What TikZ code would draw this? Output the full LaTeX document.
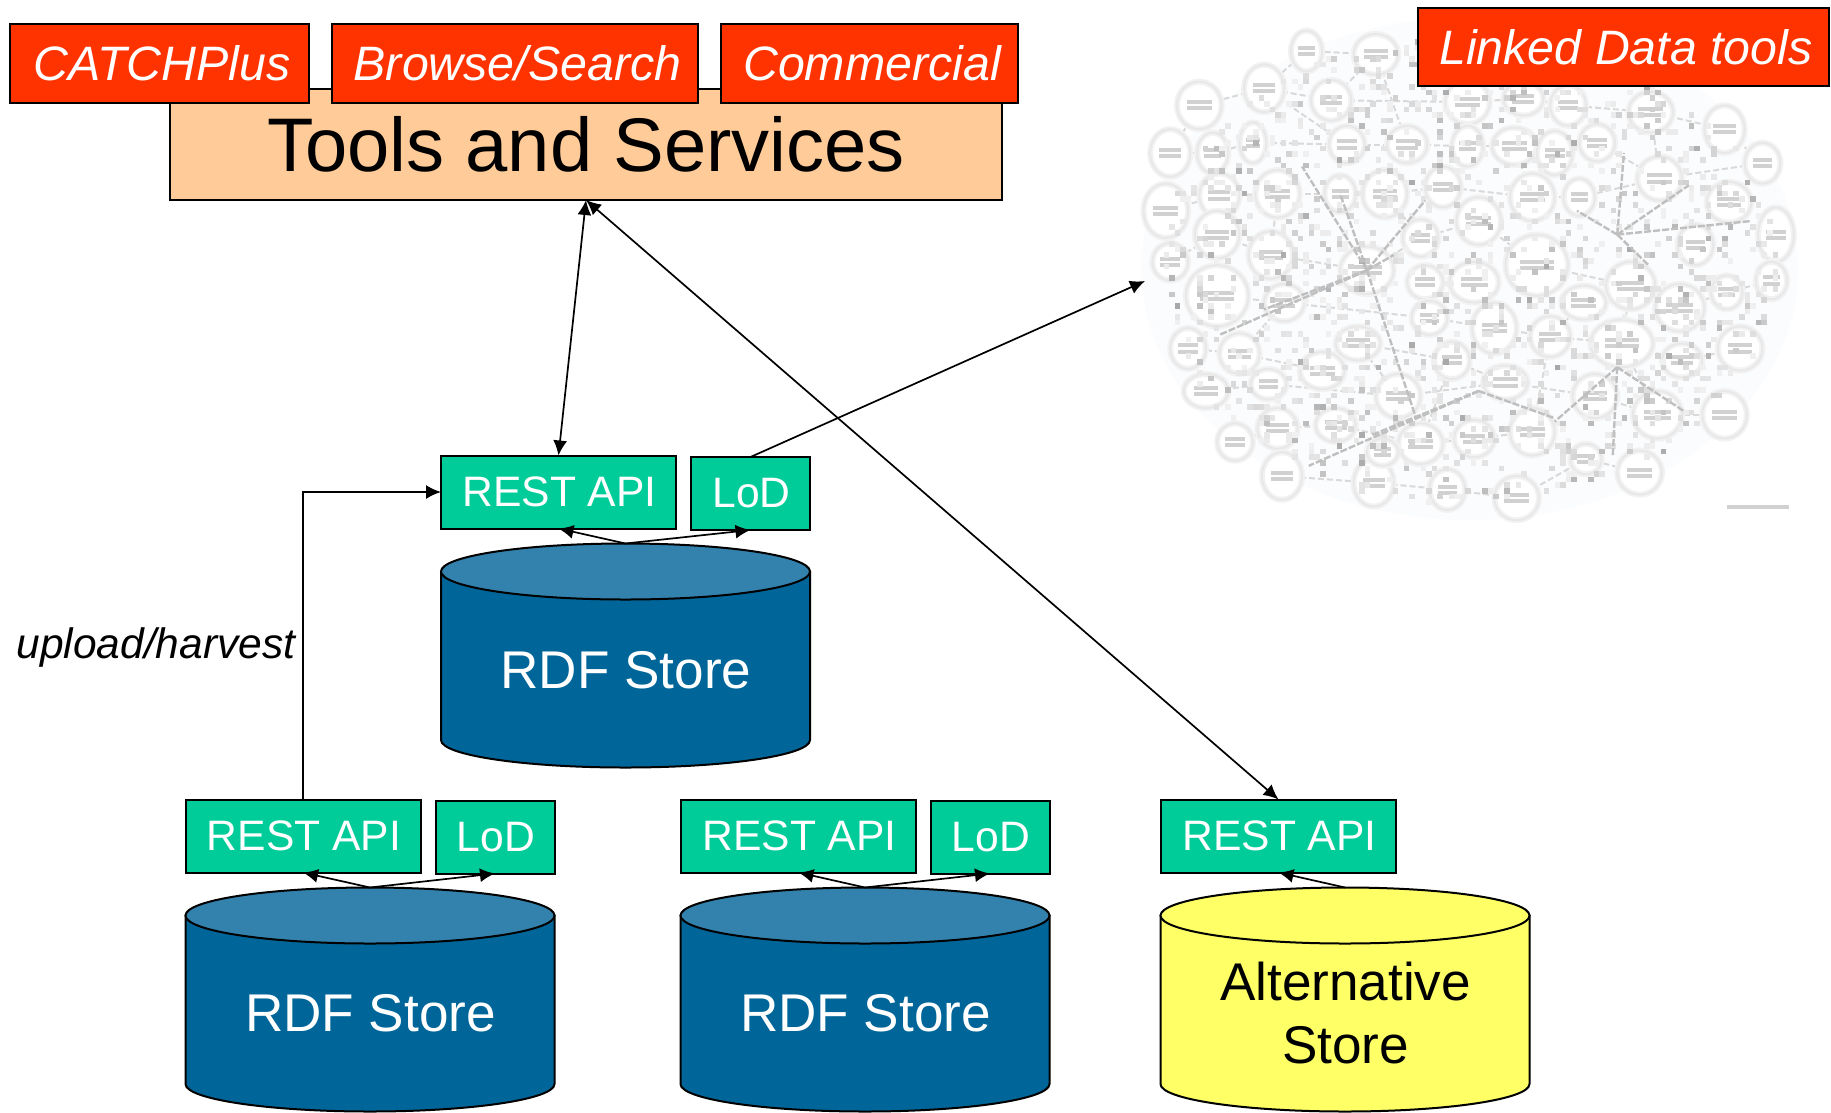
\documentclass[tikz,border=0pt]{standalone}
\usepackage{fontspec}
\setmainfont{Liberation Sans}
\usetikzlibrary{arrows.meta}
\definecolor{redbox}{HTML}{FF3300}
\definecolor{tealbox}{HTML}{00CC99}
\definecolor{storeblue}{HTML}{006699}
\definecolor{storetop}{HTML}{3382AD}
\definecolor{altyellow}{HTML}{FFFF66}
\definecolor{toolsorange}{HTML}{FFCC99}
\definecolor{cloudbg}{HTML}{FBFCFD}
\newcommand{\fsz}[1]{\fontsize{#1pt}{#1pt}\selectfont}
\newcommand{\tx}[1]{\hspace{2pt}\raisebox{-2pt}{#1}}
\newcommand{\txr}[1]{\hspace{5pt}\raisebox{-2pt}{#1}}
\newcommand{\storecyl}[6]{% name, cx, topY(ellipse centre), botY(side end), body, top
  \path[draw=black,line width=2pt,fill=#5] (#2-184.5,#3) -- (#2-184.5,#4)
     arc[start angle=180,end angle=0,x radius=184.5,y radius=27.5]
     -- (#2+184.5,#3) -- cycle;
  \path[draw=black,line width=2pt,fill=#6] (#2,#3) ellipse[x radius=184.5,y radius=28];
  \coordinate (#1) at (#2,#3-28);
}
\tikzset{
  arrowline/.style={line width=1.7pt,{Latex[length=15pt,width=14pt]}-{Latex[length=15pt,width=14pt]}},
  onearrow/.style={line width=1.7pt,-{Latex[length=15pt,width=14pt]}},
  redlabel/.style={draw=black,line width=1.5pt,fill=redbox,text=white,inner sep=0pt,outer sep=0pt,font=\fsz{48.3}\itshape},
  apibox/.style={draw=black,line width=2pt,fill=tealbox,text=white,inner sep=0pt,outer sep=0pt,minimum width=235pt,minimum height=73pt,font=\fsz{42.6}},
  lodbox/.style={draw=black,line width=2pt,fill=tealbox,text=white,inner sep=0pt,outer sep=0pt,minimum width=119pt,minimum height=73pt,font=\fsz{42.6}},
  storetext/.style={inner sep=0pt,text=white,font=\fsz{53.1}},
  cloudring/.style={draw=gray!10,line width=6pt},
  cloudringb/.style={draw=gray!18,line width=2pt},
  cloudtext/.style={draw=gray!36,line width=4pt},
  cloudhub/.style={draw=gray!50,line width=2.4pt,dash pattern=on 7pt off 2pt},
  cloudlink/.style={draw=gray!30,line width=2pt,dash pattern=on 6pt off 3pt},
}
\begin{document}
\begin{tikzpicture}[x=1pt,y=-1pt]
\useasboundingbox (0,0) rectangle (1831,1112);
% Linked data cloud image
\begin{scope}[shift={(1130,0)},xscale=0.447,yscale=0.34]
\fill[cloudbg] (760,790) ellipse[x radius=735,y radius=740];
\foreach \a/\b/\c/\d in {395/150/550/160,395/150/300/260,300/260/155/310,300/260/450/295,450/295/550/160,450/295/755/300,755/300/880/290,880/290/980/310,980/310/1165/330,1165/330/1330/380,1330/380/1415/480,155/310/90/450,90/450/185/450,185/450/275/420,275/420/485/425,485/425/620/425,620/425/755/430,755/430/860/430,860/430/950/450,950/450/1045/420,1045/420/1185/525,1185/525/1415/480,80/620/200/575,200/575/330/570,330/570/470/570,470/570/570/570,570/570/700/550,700/550/900/580,900/580/1005/580,1005/580/1185/525,195/690/315/750,90/770/195/690,315/750/530/795,530/795/650/700,650/700/780/650,780/650/910/780,910/780/1120/840,1120/840/1230/905,1230/905/1335/860,1335/860/1435/825,195/870/345/890,345/890/670/935,670/935/815/965,815/965/940/990,940/990/1100/1010,1100/1010/1235/1060,1235/1060/1365/1025,130/1025/245/1040,245/1040/430/1090,430/1090/510/1010,510/1010/720/1060,720/1060/840/1125,840/1125/1040/1165,1040/1165/1180/1220,1180/1220/1330/1220,170/1150/310/1130,310/1130/600/1165,600/1165/840/1125,235/1300/330/1260,330/1260/460/1250,460/1250/650/1305,650/1305/770/1290,770/1290/900/1270,900/1270/1020/1350,1020/1350/1140/1390,340/1400/545/1420,545/1420/710/1440,710/1440/865/1465,865/1465/1020/1350,300/260/485/425,550/160/620/425,755/300/755/430,860/430/900/580,1165/330/1185/525,200/575/195/690,330/570/315/750,570/570/650/700,770/830/815/965,660/830/670/935,1120/840/1100/1010,1015/890/940/990,345/890/245/1040,510/1010/600/1165,720/1060/650/1305,940/990/900/1270,1100/1010/1180/1220}
  \draw[cloudlink] (\a,\b) -- (\c,\d);
\foreach \x/\y/\rx/\ry in {395/150/35/60,550/160/50/60,300/260/45/70,155/310/50/70,450/295/45/60,755/300/50/65,880/290/45/50,980/310/40/60,1165/330/50/60,1330/380/45/70,1415/480/40/60,90/450/45/70,185/450/35/60,275/420/30/60,485/425/40/55,620/425/45/55,755/430/35/60,860/430/50/55,950/450/40/65,1045/420/40/55,1185/525/50/65,80/620/50/80,200/575/45/65,330/570/50/70,470/570/35/55,570/570/50/70,700/550/40/60,900/580/50/70,1005/580/35/55,780/650/50/70,1340/595/50/60,1445/690/40/80,195/690/50/70,315/750/50/70,90/770/40/55,530/795/60/70,650/700/40/55,910/780/70/90,1265/720/40/60,1120/840/55/70,770/830/55/60,660/830/40/50,1335/860/35/50,1435/825/35/55,195/870/70/90,345/890/45/55,670/935/40/50,1015/890/50/50,1230/905/55/70,815/965/50/75,940/990/45/60,1100/1010/70/70,1365/1025/50/65,130/1025/40/60,245/1040/45/60,430/1090/50/55,510/1010/50/50,720/1060/40/55,1235/1060/45/50,170/1150/50/50,310/1130/40/45,600/1165/50/65,840/1125/50/50,1040/1165/50/65,1180/1220/55/70,1330/1220/50/70,235/1300/40/55,330/1260/45/60,460/1250/45/50,650/1305/50/60,770/1290/45/55,900/1270/50/70,1020/1350/35/45,1140/1390/50/65,340/1400/45/70,545/1420/45/70,710/1440/40/60,865/1465/50/65,565/1330/35/40}{
  \path[cloudring,fill=white] (\x,\y) ellipse[x radius=\rx,y radius=\ry];
  \path[cloudringb] (\x,\y) ellipse[x radius=\rx,y radius=\ry];
  \draw[cloudtext] ({\x-0.55*\rx},\y-9) -- ({\x+0.55*\rx},\y-9);
  \draw[cloudtext] ({\x-0.55*\rx},\y+9) -- ({\x+0.55*\rx},\y+9);
}
\pgfmathsetseed{11}
\foreach \i in {1,...,1500}{
  \pgfmathsetmacro\ang{rnd*360}
  \pgfmathsetmacro\rr{sqrt(rnd)}
  \pgfmathsetmacro\px{12.5*floor((760+690*\rr*cos(\ang))/12.5)}
  \pgfmathsetmacro\py{16.5*floor((790+690*\rr*sin(\ang))/16.5)}
  \pgfmathtruncatemacro\lv{6+rnd*rnd*30}
  \fill[black!\lv] (\px,\py) rectangle +(12.5,16.5);
}
\foreach \a/\b in {385/490,470/570,660/590,200/985,300/910,640/1230,470/830,590/750}
  \draw[cloudhub] (530,795) -- (\a,\b);
\foreach \a/\b in {1250/545,1105/450,1000/620,1160/780,1390/650}
  \draw[cloudhub] (1090,690) -- (\a,\b);
\foreach \a/\b in {540/1280,400/1370,950/1230,620/1240}
  \draw[cloudhub] (780,1150) -- (\a,\b);
\foreach \a/\b in {950/1240,1080/1340,1240/1210}
  \draw[cloudhub] (1090,1080) -- (\a,\b);
\draw[cloudtext] (1335,1490) -- (1475,1490);
\end{scope}
% Tools
\node[draw=black,line width=1.5pt,fill=toolsorange,inner sep=0pt,outer sep=0pt,minimum width=832pt,minimum height=111pt,font=\fsz{76}] (tools) at (586,144.5) {\raisebox{-3pt}{Tools and Services}};
\node[redlabel,minimum width=299pt,minimum height=79pt] (catch) at (159.5,63.5) {\txr{CATCHPlus}};
\node[redlabel,minimum width=366pt,minimum height=79pt] (browse) at (515,63.5) {\txr{Browse/Search}};
\node[redlabel,minimum width=297pt,minimum height=79pt] (comm) at (869.5,63.5) {\txr{Commercial}};
\node[redlabel,minimum width=411pt,minimum height=78pt] (ldt) at (1623.5,47) {\txr{Linked Data tools}};
% Stores
\storecyl{topM}{625.5}{571.5}{740}{storeblue}{storetop}
\storecyl{topL}{370}{915.5}{1084}{storeblue}{storetop}
\storecyl{topR}{865}{915.5}{1084}{storeblue}{storetop}
\storecyl{topA}{1345}{915.5}{1084}{altyellow}{altyellow}
\node[storetext] (sM) at (626,670) {RDF Store};
\node[storetext] (sL) at (370.5,1013.5) {RDF Store};
\node[storetext] (sR) at (865.5,1013.5) {RDF Store};
\node[inner sep=0pt,align=center,font=\fsz{53.1}] (sA) at (1345.5,1013) {Alternative\\[10pt]Store};
% API boxes
\node[apibox] (restM) at (558.5,492) {\tx{REST API}};
\node[lodbox] (lodM) at (750.5,493.5) {\tx{LoD}};
\node[apibox] (restL) at (303,836) {\tx{REST API}};
\node[lodbox] (lodL) at (495,837) {\tx{LoD}};
\node[apibox] (restR) at (798.5,836) {\tx{REST API}};
\node[lodbox] (lodR) at (990,837) {\tx{LoD}};
\node[apibox] (restA) at (1278.5,836) {\tx{REST API}};
% Connectors
\coordinate (cloudin) at (1145,281);
\draw[arrowline] (restM.north) -- (tools.south);
\draw[arrowline] (restA.north) -- (tools.south);
\draw[onearrow] (lodM.north) -- (cloudin);
\draw[onearrow] (restL.north) |- (restM.west);
\foreach \t/\r/\l in {topM/restM/lodM,topL/restL/lodL,topR/restR/lodR}{
  \draw[onearrow] (\t) -- (\r.south);
  \draw[onearrow] (\t) -- (\l.south);
}
\draw[onearrow] (topA) -- (restA.south);
\node[inner sep=0pt,font=\fsz{42.5}\itshape] (upl) at (156,647.5) {upload/harvest};
\end{tikzpicture}
\end{document}
